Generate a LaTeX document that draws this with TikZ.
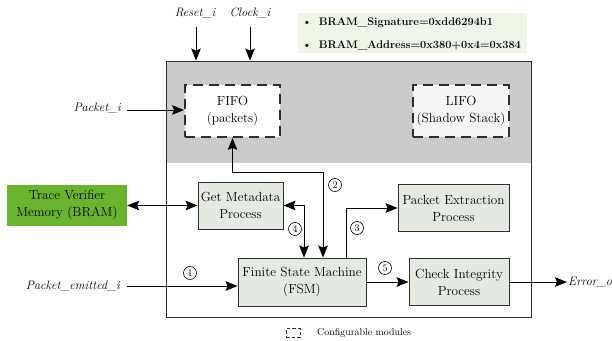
\documentclass[tikz,border=0pt]{standalone}
\usetikzlibrary{arrows.meta}

\definecolor{corefill}{HTML}{CBCBCB}
\definecolor{procfill}{HTML}{E4E9E2}
\definecolor{bramfill}{HTML}{6AB42D}
\definecolor{infofill}{HTML}{EFF6E8}
\definecolor{stackfill}{HTML}{F5F5F5}
\definecolor{edge}{HTML}{2E2E2E}

\tikzset{
  mainfont/.style={font=\fontsize{13.2}{17}\selectfont},
  sigfont/.style={font=\fontsize{12.2}{15}\selectfont\itshape},
  infotext/.style={anchor=west, inner sep=0pt, font=\fontsize{11}{14}\selectfont\bfseries},
  procbox/.style={draw=edge, line width=0.9pt, fill=procfill, align=center,
                  inner sep=1pt, mainfont},
  cfgbox/.style={draw=edge, line width=1.8pt, dash pattern=on 10pt off 6pt,
                 align=center, inner sep=1pt, mainfont},
  stepnum/.style={draw, circle, line width=0.6pt, inner sep=0pt,
                  minimum size=13pt, font=\fontsize{10}{12}\selectfont},
  tip/.tip={Stealth[length=12pt, width=9.5pt, inset=2pt]},
  conn/.style={line width=1pt, -tip},
  biconn/.style={line width=1pt, tip-tip},
}

\begin{document}
\begin{tikzpicture}[x=1pt, y=-1pt]
\useasboundingbox (0,0) rectangle (612,340);

% trace verifier core: shaded buffer area and outer frame
\fill[corefill] (166,61) rectangle (531,163);
\node[draw=edge, line width=0.9pt, minimum width=365pt, minimum height=256pt,
      inner sep=0pt] (core) at (348.5,189) {};

% BRAM configuration
\node[fill=infofill, minimum width=229pt, minimum height=40pt, inner sep=0pt]
  (info) at (412.5,33) {};
\node[infotext] (sig) at (302,23) {\textbullet\hspace{7pt}BRAM\_Signature=0xdd6294b1};
\node[infotext] (addr) at (302,45) {\textbullet\hspace{7pt}BRAM\_Address=0x380+0x4=0x384};

% configurable buffers
\node[cfgbox, fill=white, minimum width=95pt, minimum height=52pt] (fifo)
  at (232.5,111) {FIFO\\(packets)};
\node[cfgbox, fill=stackfill, minimum width=96pt, minimum height=52pt] (lifo)
  at (461,111) {LIFO\\(Shadow Stack)};

% processes
\node[draw=none, fill=bramfill, minimum width=120pt, minimum height=41pt,
      align=center, inner sep=1pt, mainfont] (bram) at (67,205.5)
  {Trace Verifier\\Memory (BRAM)};
\node[procbox, minimum width=85pt, minimum height=47pt] (meta) at (240.5,205.5)
  {Get Metadata\\Process};
\node[procbox, minimum width=111pt, minimum height=47pt] (extract) at (453.5,208)
  {Packet Extraction\\Process};
\node[procbox, minimum width=128pt, minimum height=48pt] (fsm) at (302,282)
  {Finite State Machine\\(FSM)};
\node[procbox, minimum width=100pt, minimum height=47pt] (check) at (459,282)
  {Check Integrity\\Process};

% external signals
\node[sigfont] (reset) at (195,13) {Reset\_i};
\node[sigfont] (clock) at (250,13) {Clock\_i};
\coordinate (resetin) at (196,27);
\coordinate (clockin) at (250,27);
\node[sigfont, anchor=east, inner sep=1pt] (pkt) at (122,108) {Packet\_i};
\node[sigfont, anchor=east, inner sep=1pt] (emit) at (121,286) {Packet\_emitted\_i};
\node[sigfont, anchor=west, inner sep=1pt] (err) at (567,282) {Error\_o};

% connectors
\draw[conn] ([xshift=5pt]pkt.east |- 0,110) -- (fifo.west |- 0,110);
\draw[conn] (resetin) -- (resetin |- core.north);
\draw[conn] (clockin) -- (clockin |- core.north);
\draw[biconn] (bram.east) -- (meta.west);
\draw[conn] ([xshift=6pt]emit.east |- 0,286) -- (fsm.west |- 0,286);

\coordinate (c2) at (323,172);
\draw[biconn] (fifo.south) |- (c2) -- (c2 |- fsm.north);
\draw[biconn] (meta.east) -| ([xshift=2pt]fsm.north);
\draw[conn] ([xshift=44pt]fsm.north) |- (extract.west);
\draw[conn] (fsm.east) -- (check.west);
\draw[conn] (check.east) -- (err.west);

% step numbers
\node[stepnum] (s1) at (190,273) {1};
\node[stepnum] (s2) at (335,185) {2};
\node[stepnum] (s3) at (357,228) {3};
\node[stepnum] (s4) at (295,229) {4};
\node[stepnum] (s5) at (385,268) {5};

% legend
\node[draw=edge, line width=1pt, dash pattern=on 3.5pt off 2pt,
      minimum width=14pt, minimum height=9pt, inner sep=0pt] (legbox) at (293,333) {};
\node[anchor=west, inner sep=0pt, font=\fontsize{9.9}{12}\selectfont] (legtext)
  at (317,333) {Configurable modules};
\end{tikzpicture}
\end{document}
